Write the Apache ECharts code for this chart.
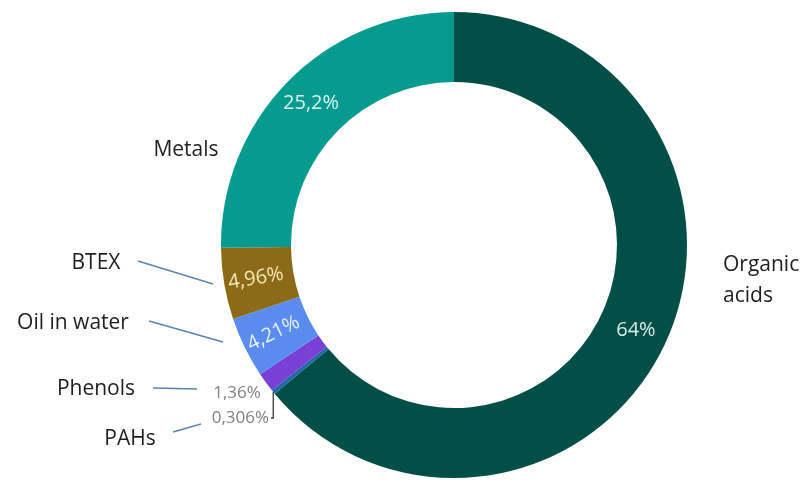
<!DOCTYPE html>
<html>
<head>
<meta charset="utf-8">
<script src="https://cdn.jsdelivr.net/npm/echarts@6/dist/echarts.min.js"></script>
<style>
  html, body { margin: 0; padding: 0; background: #ffffff; }
  #chart { width: 810px; height: 485px; }
</style>
</head>
<body>
<div id="chart"></div>
<script>
// Composition of the dissolved contaminants, share of total (%)
const categories = ['Organic acids', 'PAHs', 'Phenols', 'Oil in water', 'BTEX', 'Metals'];
const shares = [64, 0.306, 1.36, 4.21, 4.96, 25.2];

// Slice colours, in category order
const sliceColors = ['#014f47', '#2468a8', '#7a3fd4', '#5a8cf0', '#8b6b17', '#079b8f'];
// Tint of the in-ring percentage text, in category order
const valueColors = ['#d8eeeb', '#808080', '#808080', '#e8efff', '#f4e8b6', '#d6f3f0'];

const FONT = '"Open Sans", "Noto Sans", sans-serif';
const CENTER = [454, 245];
const RADIUS = [163, 233];

// Where the category names sit, and the short pointer strokes beside them
const nameLayout = {
  'Organic acids': { x: 723, y: 281, align: 'left' },
  'Metals':        { x: 186, y: 150, align: 'center' },
  'BTEX':          { x: 96,  y: 263, align: 'center', from: [138, 261], to: [213, 284] },
  'Oil in water':  { x: 73,  y: 323, align: 'center', from: [149, 321], to: [223, 342] },
  'Phenols':       { x: 96,  y: 389, align: 'center', from: [153, 388], to: [197, 389] },
  'PAHs':          { x: 130, y: 439, align: 'center', from: [173, 432], to: [201, 424] }
};

// Percentages of the thin slices are set outside the ring
const valueLayout = {
  'Phenols': { x: 237, y: 393, align: 'center' },
  'PAHs':    { x: 269, y: 418, align: 'right' }
};

const fmtPct = v => String(v).replace('.', ',') + '%';

const valueData = categories.map((name, i) => {
  const item = {
    name: name,
    value: shares[i],
    itemStyle: { color: sliceColors[i] },
    label: { color: valueColors[i] }
  };
  if (name === 'BTEX' || name === 'Oil in water') {
    item.label.rotate = 'radial';
  }
  if (valueLayout[name]) {
    item.label.position = 'outside';
    item.label.fontSize = 17;
    item.labelLine = {
      show: name === 'PAHs',
      length: 4,
      length2: 4,
      lineStyle: { color: '#3a3a3a', width: 1.3 }
    };
  }
  return item;
});

const nameData = categories.map((name, i) => ({
  name: name,
  value: shares[i],
  labelLine: { show: !!nameLayout[name].from }
}));

const chart = echarts.init(document.getElementById('chart'), null, { renderer: 'canvas' });

chart.setOption({
  backgroundColor: '#ffffff',
  animation: false,
  series: [
    {
      // the ring and its percentage labels
      type: 'pie',
      center: CENTER,
      radius: RADIUS,
      startAngle: 90,
      clockwise: true,
      silent: true,
      avoidLabelOverlap: false,
      label: {
        show: true,
        position: 'inside',
        fontFamily: FONT,
        fontSize: 20,
        formatter: p => fmtPct(p.value)
      },
      labelLine: { show: false },
      labelLayout: function (p) {
        const name = categories[p.dataIndex];
        const v = valueLayout[name];
        if (!v) return {};
        const out = { x: v.x, y: v.y, align: v.align, verticalAlign: 'middle' };
        if (name === 'PAHs' && p.labelLinePoints && p.labelLinePoints.length) {
          const a = p.labelLinePoints[0];
          out.labelLinePoints = [[a[0], a[1]], [a[0], v.y], [v.x + 2, v.y]];
        }
        return out;
      },
      data: valueData
    },
    {
      // category names with their pointer strokes
      type: 'pie',
      center: CENTER,
      radius: RADIUS,
      startAngle: 90,
      clockwise: true,
      silent: true,
      avoidLabelOverlap: false,
      itemStyle: { color: 'rgba(0,0,0,0)' },
      label: {
        show: true,
        position: 'outside',
        fontFamily: FONT,
        fontSize: 21,
        lineHeight: 31,
        color: '#1e1e1e',
        formatter: p => p.name === 'Organic acids' ? 'Organic\nacids' : p.name
      },
      labelLine: {
        show: true,
        smooth: false,
        lineStyle: { color: '#5b84b1', width: 1.5 }
      },
      labelLayout: function (p) {
        const v = nameLayout[categories[p.dataIndex]];
        const out = { x: v.x, y: v.y, align: v.align, verticalAlign: 'middle' };
        if (v.from) {
          out.labelLinePoints = [v.to, v.from];
        }
        return out;
      },
      data: nameData
    }
  ]
});
</script>
</body>
</html>
